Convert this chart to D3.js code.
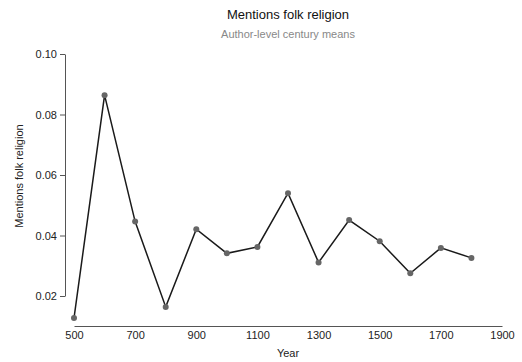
<!DOCTYPE html>
<html><head><meta charset="utf-8">
<script src="https://cdn.jsdelivr.net/npm/d3@7"></script>
<style>body{margin:0;background:#fff}svg{display:block;font-family:"Liberation Sans",Arial,sans-serif}</style>
</head><body><svg id="c" width="522" height="362"></svg>
<script>
const years = [500,600,700,800,900,1000,1100,1200,1300,1400,1500,1600,1700,1800];
const values = [0.0127,0.0864,0.0446,0.0164,0.0421,0.0341,0.0362,0.0540,0.0311,0.0451,0.0381,0.0275,0.0359,0.0326];
const xTicks = [500,700,900,1100,1300,1500,1700,1900];
const yTicks = [0.02,0.04,0.06,0.08,0.10];
const title = "Mentions folk religion";
const subtitle = "Author-level century means";

const svg = d3.select("#c");
const x = d3.scaleLinear().domain([500,1900]).range([74,502]);
const y = d3.scaleLinear().domain([0.02,0.10]).range([296,54]);

svg.append("text").attr("x",288).attr("y",19).attr("text-anchor","middle")
  .attr("font-size",13).attr("fill","#111").text(title);
svg.append("text").attr("x",288).attr("y",38).attr("text-anchor","middle")
  .attr("font-size",11).attr("fill","#888").text(subtitle);

const gy = svg.append("g").attr("transform","translate(65,0)")
  .call(d3.axisLeft(y).tickValues(yTicks).tickFormat(d3.format(".2f")).tickSize(5).tickSizeOuter(0).tickPadding(3));
gy.select(".domain").attr("stroke","#555");
gy.selectAll(".tick line").attr("stroke","#555");
gy.selectAll("text").attr("font-size",11).attr("fill","#222").attr("font-family","Liberation Sans, Arial, sans-serif");

const gx = svg.append("g").attr("transform","translate(0,326)")
  .call(d3.axisBottom(x).tickValues(xTicks).tickFormat(d3.format("d")).tickSize(0).tickSizeOuter(0).tickPadding(5));
gx.select(".domain").attr("stroke","#555");
gx.selectAll("text").attr("font-size",11).attr("fill","#222").attr("font-family","Liberation Sans, Arial, sans-serif");

svg.append("text").attr("x",288).attr("y",357).attr("text-anchor","middle")
  .attr("font-size",11).attr("fill","#222").text("Year");
svg.append("text").attr("transform","translate(23,176) rotate(-90)").attr("text-anchor","middle")
  .attr("font-size",11).attr("fill","#222").text("Mentions folk religion");

const data = years.map((d,i)=>({year:d,value:values[i]}));
svg.append("path").datum(data)
  .attr("fill","none").attr("stroke","#1a1a1a").attr("stroke-width",1.5)
  .attr("d", d3.line().x(d=>x(d.year)).y(d=>y(d.value)));
svg.selectAll("circle.pt").data(data).join("circle").attr("class","pt")
  .attr("cx",d=>x(d.year)).attr("cy",d=>y(d.value)).attr("r",3).attr("fill","#666");
</script></body></html>
